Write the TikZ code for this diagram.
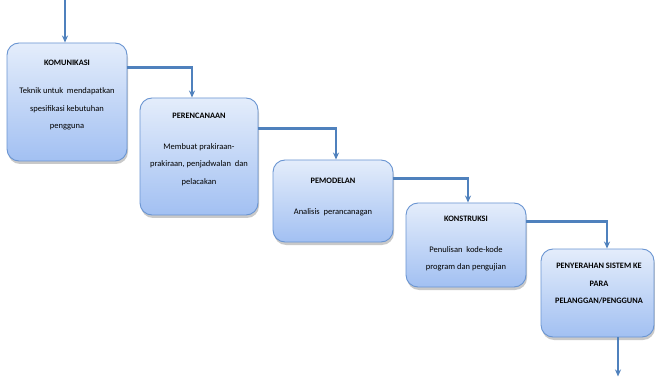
\documentclass[tikz,border=0pt]{standalone}
\usepackage{fontspec}
\setmainfont{Carlito}
\usetikzlibrary{arrows.meta,shadows,calc}
\definecolor{boxborder}{HTML}{6A95D2}
\definecolor{boxtop}{HTML}{E4EDFB}
\definecolor{boxbot}{HTML}{A2C0F2}
\definecolor{conncol}{HTML}{4F81BD}
\tikzset{
  stagebox/.style={draw=boxborder, line width=0.9pt, rounded corners=12pt,
    top color=boxtop, bottom color=boxbot, inner sep=0pt,
    drop shadow={shadow xshift=1pt, shadow yshift=-3pt, opacity=0.35, fill=black!60}},
  ttl/.style={font=\fontsize{8.3}{17.5}\selectfont\bfseries, align=center, inner sep=0pt},
  body/.style={font=\fontsize{8.5}{17.5}\selectfont, align=center, inner sep=0pt},
  conn/.style={draw=conncol, line width=2.2pt, -{Stealth[length=7pt,width=6pt]}},
}
\begin{document}
\begin{tikzpicture}[x=1pt,y=-1pt]
\useasboundingbox (0,0) rectangle (655,379);
\fill[white] (0,0) rectangle (655,379);
% boxes
\node[stagebox, minimum width=120pt, minimum height=118pt] (b1) at (67,102) {};
\node[stagebox, minimum width=118pt, minimum height=117pt] (b2) at (199,156.5) {};
\node[stagebox, minimum width=120pt, minimum height=82pt] (b3) at (333,201) {};
\node[stagebox, minimum width=120pt, minimum height=84pt] (b4) at (466,245) {};
\node[stagebox, minimum width=113pt, minimum height=88pt] (b5) at (597.5,293) {};
% texts
\node[ttl] (t1) at (67,63) {KOMUNIKASI};
\node[body] (d1) at (67,109) {Teknik untuk\ \ mendapatkan\\spesifikasi kebutuhan\\pengguna};
\node[ttl] (t2) at (199,116) {PERENCANAAN};
\node[body] (d2) at (199,164.5) {Membuat prakiraan-\\prakiraan, penjadwalan\ \ dan\\pelacakan};
\node[ttl] (t3) at (333,181) {PEMODELAN};
\node[body] (d3) at (333,212) {Analisis\ \ perancanagan};
\node[ttl] (t4) at (466,219) {KONSTRUKSI};
\node[body] (d4) at (466,259) {Penulisan\ \ kode-kode\\program dan pengujian};
\node[ttl] (t5) at (599,283.5) {PENYERAHAN SISTEM KE\\PARA\\PELANGGAN/PENGGUNA};
% connectors
\coordinate (s0) at (65,0);
\coordinate (e1) at ($(b1.north)+(-2,0)$);
\coordinate (e2) at ($(b2.north)+(-7,0)$);
\coordinate (e3) at ($(b3.north)+(3,0)$);
\coordinate (e4) at ($(b4.north)+(2,0)$);
\coordinate (e5) at ($(b5.north)+(9.5,0)$);
\coordinate (s6) at ($(b5.south)+(20.5,0)$);
\coordinate (e6) at ($(b5.south)+(20.5,39)$);
\draw[conn] (s0) -- (e1);
\draw[conn] ($(b1.north east)+(-0.5,25)$) -| (e2);
\draw[conn] ($(b2.north east)+(-0.5,31)$) -| (e3);
\draw[conn] ($(b3.north east)+(-0.5,19)$) -| (e4);
\draw[conn] ($(b4.north east)+(-0.5,19)$) -| (e5);
\draw[conn] (s6) -- (e6);
\end{tikzpicture}
\end{document}
